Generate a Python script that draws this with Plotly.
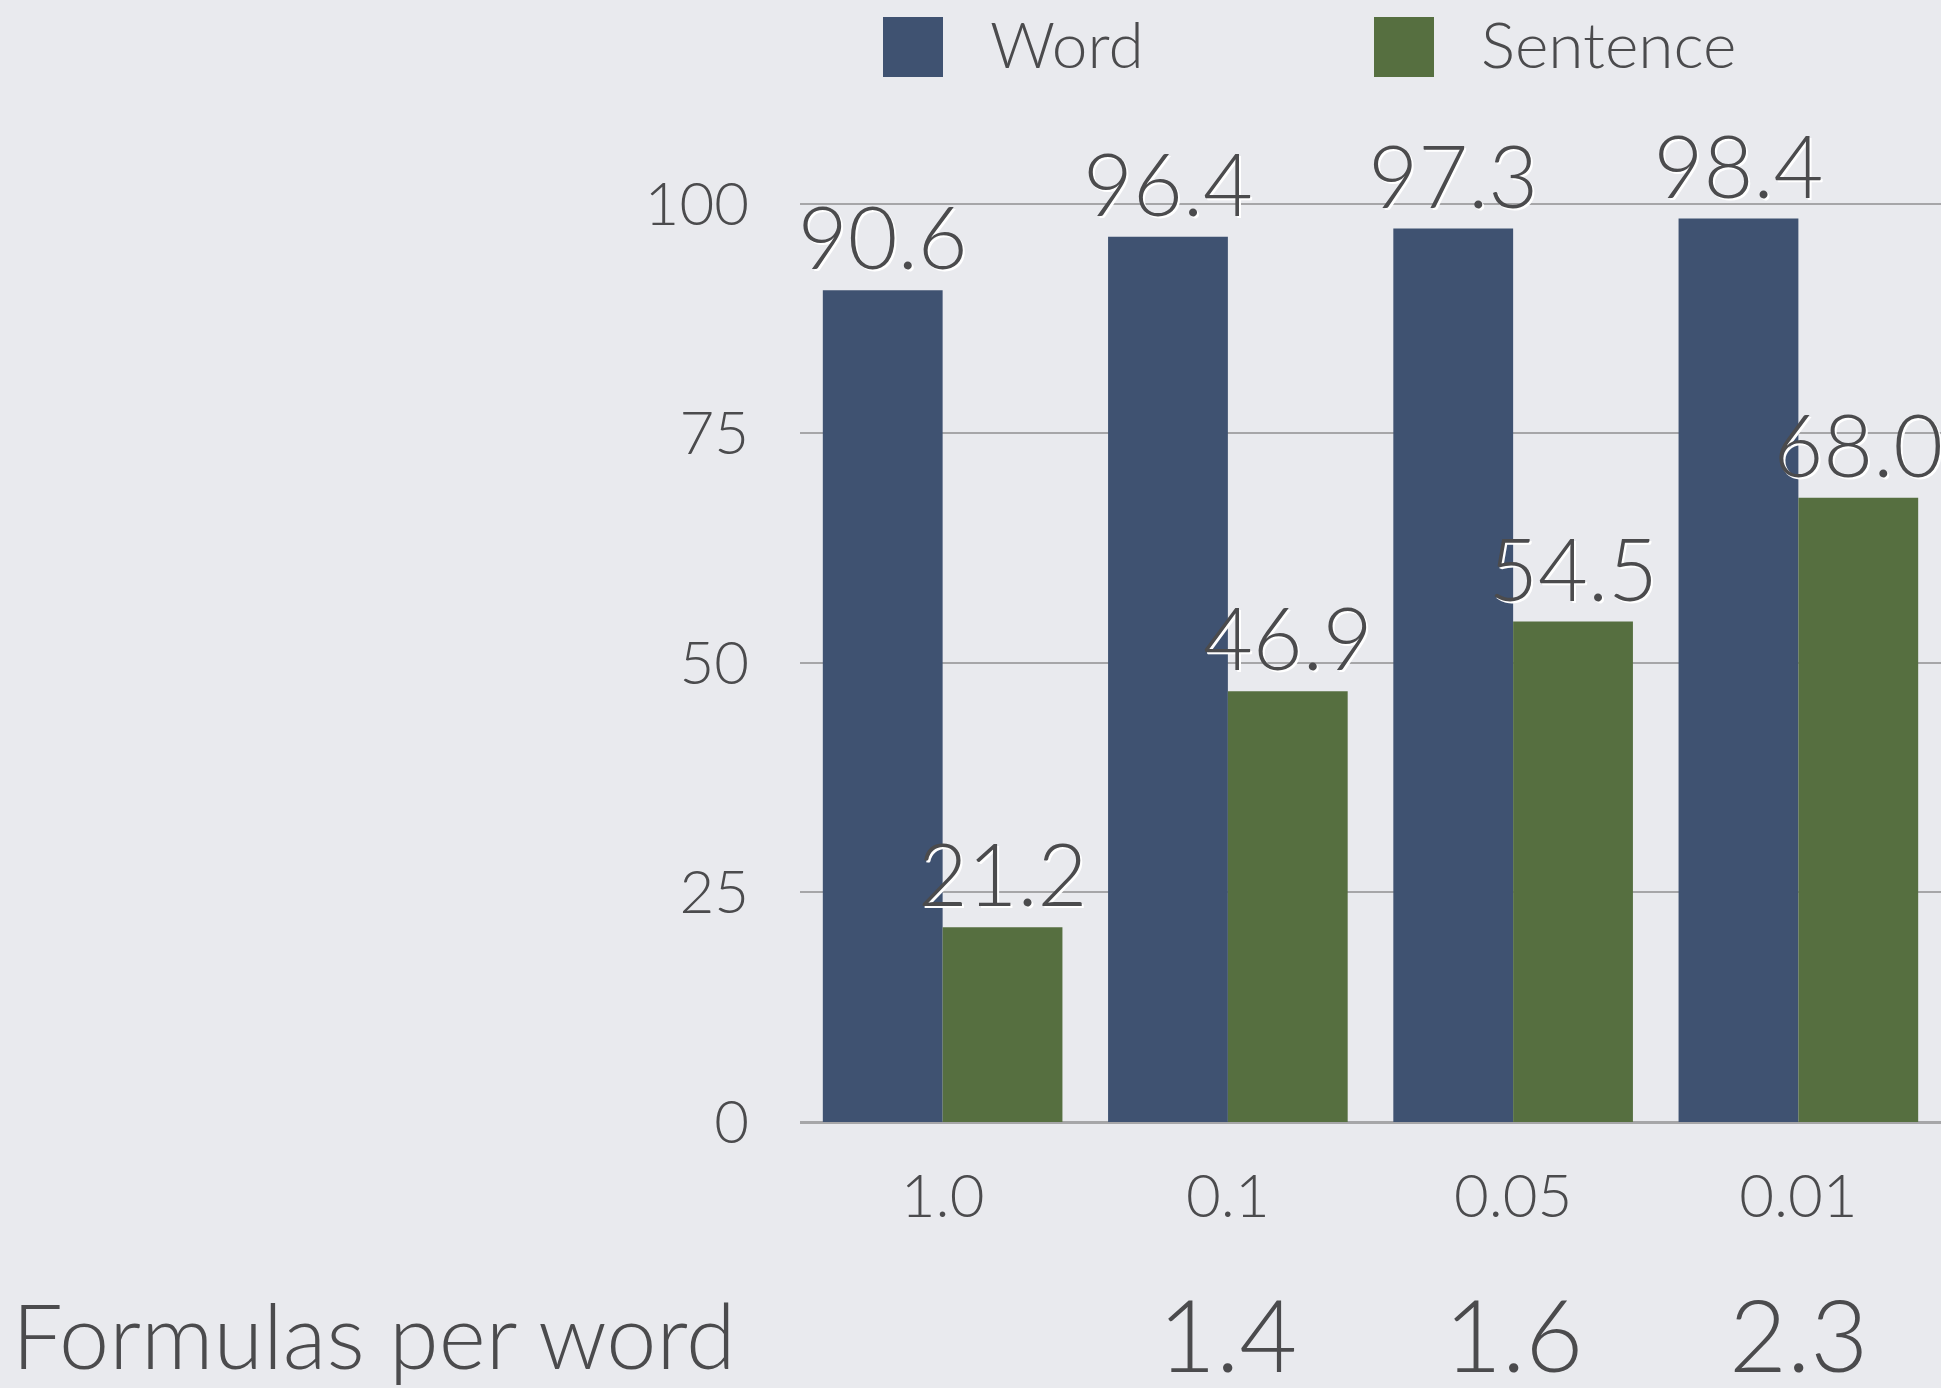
import plotly.graph_objects as go

categories = ["1.0", "0.1", "0.05", "0.01"]
word_values = [90.6, 96.4, 97.3, 98.4]
sentence_values = [21.2, 46.9, 54.5, 68.0]
series_names = ["Word", "Sentence"]
series_colors = ["#3f5271", "#566f40"]
y_ticks = [0, 25, 50, 75, 100]
formulas_per_word = ["", "1.4", "1.6", "2.3"]
formulas_label = "Formulas per word"

TEXT = "#4b4b4d"
FONT = "Lato"
W, H = 1941, 1388
ML, MR, MT, MB = 800, 0, 112, 266

fig = go.Figure()
for name, vals, col in zip(series_names, [word_values, sentence_values], series_colors):
    fig.add_trace(go.Bar(
        x=categories, y=vals, name=name, marker=dict(color=col, line=dict(width=0)),
        text=[f"{v:.1f}" for v in vals], textposition="outside", cliponaxis=False,
        constraintext="none",
        textfont=dict(family=FONT, size=86, color=TEXT, weight=300,
                      shadow="2px 2px 0px #ffffff"),
        showlegend=False,
    ))

# manual legend (large square swatches)
pw = W - ML - MR
ph = H - MT - MB
leg_x = [883, 1374]
for name, col, lx in zip(series_names, series_colors, leg_x):
    x0 = (lx - ML) / pw
    x1 = (lx + 60 - ML) / pw
    y0 = (H - MB - 77) / ph
    y1 = (H - MB - 17) / ph
    fig.add_shape(type="rect", xref="paper", yref="paper", x0=x0, x1=x1, y0=y0, y1=y1,
                  fillcolor=col, line=dict(width=0))
    fig.add_annotation(xref="paper", yref="paper", x=(lx + 105 - ML) / pw,
                       y=(H - MB - 44) / ph, text=name, showarrow=False,
                       xanchor="left", yanchor="middle",
                       font=dict(family=FONT, size=64, color=TEXT, weight=300))

# formulas per word row
fig.add_annotation(xref="paper", yref="paper", x=(10 - ML) / pw, y=-(1334 - (H - MB)) / ph,
                   text=formulas_label, showarrow=False, xanchor="left", yanchor="middle",
                   font=dict(family=FONT, size=90, color=TEXT, weight=300))
for i, t in enumerate(formulas_per_word):
    if t:
        fig.add_annotation(xref="x", yref="paper", x=i, y=-(1333 - (H - MB)) / ph,
                           text=t, showarrow=False, xanchor="center", yanchor="middle",
                           font=dict(family=FONT, size=100, color=TEXT, weight=300))

fig.update_layout(
    width=W, height=H,
    margin=dict(l=ML, r=MR, t=MT, b=MB, pad=0),
    paper_bgcolor="#e9eaee", plot_bgcolor="rgba(0,0,0,0)",
    barmode="group", bargap=0.16, bargroupgap=0,
    font=dict(family=FONT, color=TEXT, weight=300),
    showlegend=False,
)
fig.update_xaxes(type="category", showgrid=False, showline=False, zeroline=False,
                 ticks="", tickfont=dict(family=FONT, size=60, color=TEXT, weight=300),
                 ticklabelstandoff=34)
fig.update_yaxes(range=[0, 110], tickvals=y_ticks, ticktext=[str(v) for v in y_ticks],
                 showgrid=True, gridcolor="#a6a6a8", gridwidth=2,
                 zeroline=True, zerolinecolor="#a6a6a8", zerolinewidth=3,
                 showline=False, ticks="",
                 tickfont=dict(family=FONT, size=60, color=TEXT, weight=300),
                 ticklabelstandoff=50)

fig.write_html("out.html")
